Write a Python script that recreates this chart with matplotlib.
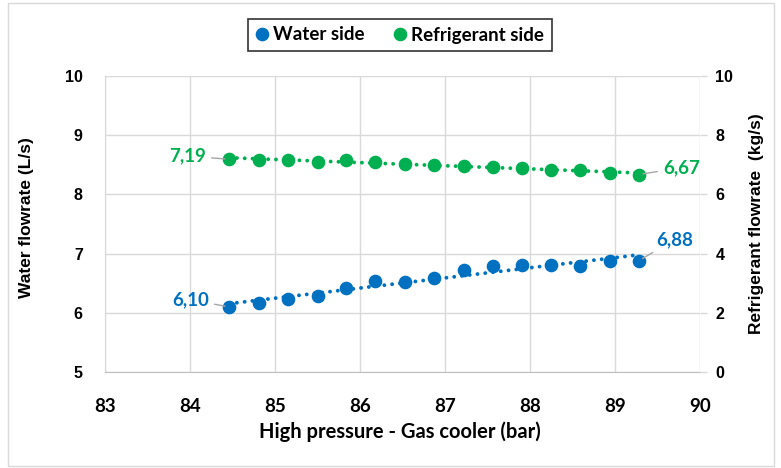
import numpy as np
import matplotlib
matplotlib.use("Agg")
import matplotlib.pyplot as plt
from matplotlib.lines import Line2D
from matplotlib.patches import Rectangle

# gas cooler high pressure (bar)
pressure = [84.46, 84.81, 85.15, 85.50, 85.84, 86.18, 86.53, 86.87,
            87.22, 87.56, 87.90, 88.25, 88.59, 88.94, 89.28]
# water side flowrate (L/s), left axis
water_flow = [6.10, 6.16, 6.23, 6.29, 6.42, 6.53, 6.52, 6.58,
              6.73, 6.79, 6.81, 6.81, 6.79, 6.87, 6.88]
# refrigerant side flowrate (kg/s), right axis
refr_flow = [7.19, 7.17, 7.15, 7.11, 7.16, 7.09, 7.03, 7.00,
             6.96, 6.91, 6.90, 6.84, 6.81, 6.73, 6.67]

x_ticks = [83, 84, 85, 86, 87, 88, 89, 90]
left_ticks = [5, 6, 7, 8, 9, 10]
right_ticks = [0, 2, 4, 6, 8, 10]

BLUE = "#0070C0"
GREEN = "#00B050"
GRID = "#d9d9d9"
LEAD = "#a6a6a6"
ARIAL = "Liberation Sans"
CALIBRI = "Lato"
DOTS = (0, (0.01, 2.0))

plt.rcParams["font.weight"] = "bold"

fig = plt.figure(figsize=(7.81, 4.68), dpi=100)
ax = fig.add_axes([105 / 781, 96 / 468, 595 / 781, 296 / 468])
ax2 = ax.twinx()

x = np.array(pressure)

# water side on the left axis
ax.plot(x, water_flow, "o", color=BLUE, markersize=8.8, zorder=3)
p = np.polyfit(x, water_flow, 1)
ax.plot(x, np.polyval(p, x), ls=DOTS, color=BLUE, lw=2.8,
        dash_capstyle="round", zorder=2)

# refrigerant side on the right axis
ax2.plot(x, refr_flow, "o", color=GREEN, markersize=8.8, zorder=3)
p2 = np.polyfit(x, refr_flow, 1)
ax2.plot(x, np.polyval(p2, x), ls=DOTS, color=GREEN, lw=2.8,
         dash_capstyle="round", zorder=2)

ax.set_xlim(83, 90)
ax.set_ylim(5, 10)
ax2.set_ylim(0, 10)
ax.set_xticks(x_ticks)
ax.set_yticks(left_ticks)
ax2.set_yticks(right_ticks)
ax.set_xticklabels([str(v) for v in x_ticks], family=CALIBRI,
                   fontweight="bold", fontsize=13.5)
ax.set_yticklabels([str(v) for v in left_ticks], family=ARIAL,
                   fontweight="bold", fontsize=11.5)
ax2.set_yticklabels([str(v) for v in right_ticks], family=ARIAL,
                    fontweight="bold", fontsize=11.5)

ax.grid(True, color=GRID, lw=1)
ax.set_axisbelow(True)
for a in (ax, ax2):
    for s in a.spines.values():
        s.set_visible(False)
ax.spines["bottom"].set_visible(True)
ax.spines["bottom"].set_color("#bfbfbf")
ax.spines["left"].set_visible(True)
ax.spines["left"].set_color(GRID)

ax.tick_params(axis="x", length=0, pad=19)
ax.tick_params(axis="y", length=0, pad=16)
ax2.tick_params(axis="y", length=5, color=GRID, width=1, pad=6)

fig.text(27 / 781, 1 - 218 / 468, "Water flowrate (L/s)", rotation=90,
         ha="center", va="center", fontsize=12.5, fontweight="bold", family=ARIAL)
fig.text(757 / 781, 1 - 224 / 468, "Refrigerant flowrate  (kg/s)", rotation=90,
         ha="center", va="center", fontsize=12.5, fontweight="bold", family=ARIAL)
fig.text(400 / 781, 1 - 432 / 468, "High pressure - Gas cooler (bar)",
         ha="center", va="center", fontsize=14.5, fontweight="bold", family=CALIBRI)

# end point value labels with leader lines
def end_label(axis, xv, yv, dx, dy, color, ha):
    axis.annotate(f"{yv:.2f}".replace(".", ","), xy=(xv, yv),
                  xytext=(dx, dy), textcoords="offset pixels",
                  ha=ha, va="center", color=color, fontsize=13.5,
                  fontweight="bold", family=CALIBRI,
                  arrowprops=dict(arrowstyle="-", color=LEAD, lw=1,
                                  shrinkA=2, shrinkB=3))

end_label(ax, pressure[0], water_flow[0], -20, 7, BLUE, "right")
end_label(ax, pressure[-1], water_flow[-1], 17, 21, BLUE, "left")
end_label(ax2, pressure[0], refr_flow[0], -23, 3, GREEN, "right")
end_label(ax2, pressure[-1], refr_flow[-1], 24, 7, GREEN, "left")

handles = [Line2D([], [], ls="", marker="o", color=BLUE, markersize=8.8),
           Line2D([], [], ls="", marker="o", color=GREEN, markersize=8.8)]
leg = fig.legend(handles, ["Water side", "Refrigerant side"], loc="center",
                 bbox_to_anchor=(400 / 781, 1 - 35 / 468), ncol=2,
                 frameon=True, fancybox=False, handlelength=0.6,
                 handletextpad=0.3, columnspacing=1.6, borderpad=0.4,
                 prop=dict(family=CALIBRI, weight="bold", size=13.5))
leg.get_frame().set_edgecolor("black")
leg.get_frame().set_linewidth(1.2)

# outer chart border
fig.patches.append(Rectangle((8 / 781, 2 / 468), 766 / 781, 463 / 468,
                             transform=fig.transFigure, fill=False,
                             edgecolor=GRID, lw=1))

fig.savefig("out.png", dpi=100)
